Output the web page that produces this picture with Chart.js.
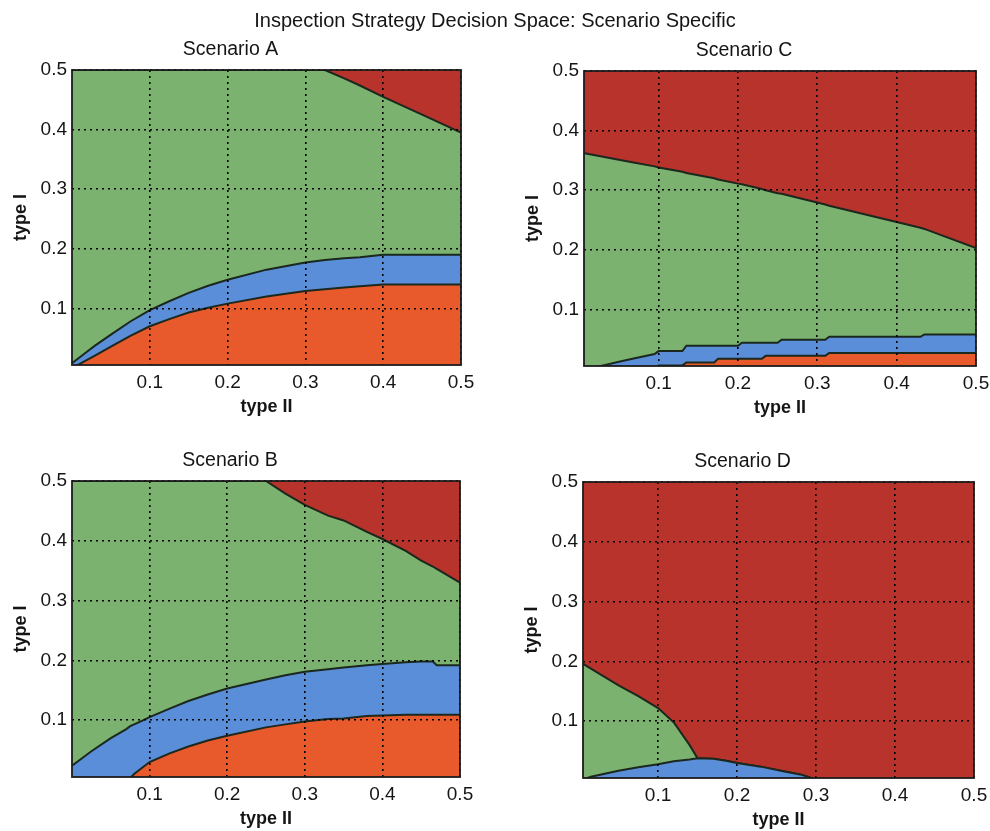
<!DOCTYPE html>
<html>
<head>
<meta charset="utf-8">
<script src="https://cdn.jsdelivr.net/npm/chart.js@4.4.1/dist/chart.umd.min.js"></script>
<style>
  body { margin: 0; background: #fff; width: 990px; height: 831px; position: relative; overflow: hidden; font-family: "Liberation Sans", Arial, sans-serif; }
  #title { position: absolute; left: 0; top: 8px; width: 990px; text-align: center; font-size: 20px; line-height: 24px; color: #151515; z-index: 2; }
  canvas { position: absolute; }
</style>
</head>
<body>
<div id="title">Inspection Strategy Decision Space: Scenario Specific</div>
<canvas id="chartA" width="495" height="390" style="left:0;top:30px"></canvas>
<canvas id="chartC" width="478" height="390" style="left:512px;top:31px"></canvas>
<canvas id="chartB" width="495" height="391" style="left:0;top:441px"></canvas>
<canvas id="chartD" width="479" height="391" style="left:511px;top:442px"></canvas>
<script>
const tickValues = [0.1, 0.2, 0.3, 0.4, 0.5];
const tickLabels = ['0.1', '0.2', '0.3', '0.4', '0.5'];

// boundaries: top of orange, top of blue, top of green (rest is red)
const xA = [0, 0.01, 0.02, 0.03, 0.05, 0.075, 0.1, 0.125, 0.15, 0.175, 0.2, 0.25, 0.3, 0.325, 0.35, 0.37, 0.4, 0.45, 0.5];
const orangeA = [0, 0.007, 0.014, 0.021, 0.036, 0.054, 0.07, 0.082, 0.093, 0.101, 0.108, 0.12, 0.129, 0.132, 0.135, 0.137, 0.14, 0.14, 0.14];
const blueA = [0.008, 0.018, 0.028, 0.038, 0.056, 0.078, 0.097, 0.112, 0.126, 0.138, 0.148, 0.165, 0.177, 0.181, 0.184, 0.186, 0.19, 0.19, 0.19];
const greenA = [0.5, 0.5, 0.5, 0.5, 0.5, 0.5, 0.5, 0.5, 0.5, 0.5, 0.5, 0.5, 0.5, 0.5, 0.486, 0.474, 0.455, 0.425, 0.395];

const xB = [0, 0.025, 0.05, 0.07, 0.075, 0.08, 0.09, 0.1, 0.125, 0.15, 0.175, 0.2, 0.25, 0.275, 0.3, 0.33, 0.35, 0.38, 0.4, 0.43, 0.45, 0.465, 0.47, 0.5];
const orangeB = [0, 0, 0, 0, 0.003, 0.01, 0.02, 0.03, 0.044, 0.056, 0.066, 0.074, 0.088, 0.093, 0.098, 0.102, 0.103, 0.107, 0.108, 0.109, 0.109, 0.109, 0.109, 0.109];
const blueB = [0.024, 0.048, 0.07, 0.085, 0.09, 0.093, 0.099, 0.105, 0.119, 0.132, 0.143, 0.153, 0.168, 0.175, 0.181, 0.185, 0.188, 0.192, 0.194, 0.197, 0.198, 0.198, 0.192, 0.192];
const greenB = [0.5, 0.5, 0.5, 0.5, 0.5, 0.5, 0.5, 0.5, 0.5, 0.5, 0.5, 0.5, 0.5, 0.479, 0.46, 0.442, 0.434, 0.415, 0.403, 0.383, 0.367, 0.357, 0.353, 0.33];

const xC = [0, 0.01, 0.03, 0.05, 0.07, 0.095, 0.1, 0.13, 0.135, 0.17, 0.175, 0.2, 0.205, 0.23, 0.235, 0.25, 0.255, 0.31, 0.315, 0.43, 0.435, 0.5];
const orangeC = [0, 0, 0, 0, 0, 0, 0.006, 0.006, 0.011, 0.011, 0.017, 0.017, 0.017, 0.017, 0.022, 0.022, 0.022, 0.022, 0.027, 0.027, 0.027, 0.027];
const blueC = [0, 0, 0.006, 0.012, 0.018, 0.025, 0.03, 0.03, 0.039, 0.039, 0.039, 0.039, 0.044, 0.044, 0.044, 0.044, 0.049, 0.049, 0.054, 0.054, 0.058, 0.058];
const greenC = [0.363, 0.361, 0.356, 0.351, 0.346, 0.34, 0.338, 0.331, 0.329, 0.32, 0.318, 0.311, 0.31, 0.302, 0.3, 0.295, 0.294, 0.276, 0.274, 0.237, 0.235, 0.203];

const xD = [0, 0.015, 0.05, 0.075, 0.1, 0.12, 0.14, 0.15, 0.17, 0.186, 0.2, 0.23, 0.26, 0.28, 0.297, 0.303, 0.35, 0.4, 0.5];
const orangeD = [0, 0, 0, 0, 0, 0, 0, 0, 0, 0, 0, 0, 0, 0, 0, 0, 0, 0, 0];
const blueD = [0, 0.007, 0.017, 0.023, 0.028, 0.033, 0.036, 0.038, 0.037, 0.034, 0.03, 0.024, 0.016, 0.011, 0.004, 0, 0, 0, 0];
const greenD = [0.2, 0.188, 0.16, 0.142, 0.122, 0.098, 0.06, 0.038, 0.037, 0.034, 0.03, 0.024, 0.016, 0.011, 0.004, 0, 0, 0, 0];

const FONT = '"Liberation Sans", Arial, sans-serif';
const INK = '#151515';
const EDGE = '#1b281d';
const COLORS = { orange: '#e85a2b', blue: '#5b8ed9', green: '#7cb26f', red: '#b7332b' };

Chart.defaults.font.family = FONT;
Chart.defaults.color = INK;

// box round the plot area, like the matlab axes
const framePlugin = {
  id: 'frame',
  afterDraw(chart) {
    const { ctx, chartArea: a } = chart;
    ctx.save();
    ctx.strokeStyle = '#1c1c1c';
    ctx.lineWidth = 1.8;
    ctx.strokeRect(a.left, a.top, a.right - a.left, a.bottom - a.top);
    ctx.restore();
  }
};

function pts(xs, ys) {
  return xs.map((x, i) => ({ x: x, y: ys[i] }));
}

function axis(min, label, isX) {
  return {
    type: 'linear',
    min: min,
    max: 0.5,
    afterBuildTicks: s => { s.ticks = tickValues.map(v => ({ value: v })); },
    afterFit: s => {
      // fixed axis sizes so the four plot boxes line up with the reference
      if (isX) { s.height = 55; s.paddingLeft = 0; s.paddingRight = 0; }
      else { s.width = 72; s.paddingTop = 0; s.paddingBottom = 0; }
    },
    ticks: {
      callback: (v, i) => tickLabels[i],
      color: INK,
      font: { size: 19 },
      padding: isX ? 6 : 5,
      maxRotation: 0,
      autoSkip: false
    },
    grid: { z: 1, drawTicks: false, color: '#000', lineWidth: 1.6 },
    border: { display: false, dash: [2, 4] },
    title: {
      display: true,
      text: label,
      color: INK,
      font: { size: 18, weight: 'bold' },
      padding: isX ? { top: 0, bottom: 2 } : { top: 10, bottom: 0 }
    }
  };
}

function makeChart(id, title, xMin, padRight, xs, orange, blue, green) {
  const line = { pointRadius: 0, tension: 0, borderColor: EDGE, borderWidth: 2 };
  new Chart(document.getElementById(id), {
    type: 'line',
    data: {
      datasets: [
        { ...line, data: pts(xs, orange), backgroundColor: COLORS.orange, fill: 'origin' },
        { ...line, data: pts(xs, blue), backgroundColor: COLORS.blue, fill: '-1' },
        { ...line, data: pts(xs, green), backgroundColor: COLORS.green, fill: '-1' },
        { ...line, data: pts(xs, green), backgroundColor: COLORS.red, borderWidth: 0, fill: 'end' }
      ]
    },
    options: {
      responsive: false,
      animation: false,
      events: [],
      layout: { padding: { top: 8, right: padRight, bottom: 0, left: 0 } },
      plugins: {
        legend: { display: false },
        tooltip: { enabled: false },
        title: {
          display: true,
          text: title,
          color: INK,
          font: { size: 19.5, weight: 'normal' },
          padding: { top: 0, bottom: 8.6 }
        }
      },
      scales: {
        x: axis(xMin, 'type II', true),
        y: axis(0.005, 'type I', false)
      }
    },
    plugins: [framePlugin]
  });
}

makeChart('chartA', 'Scenario A', 0, 34, xA, orangeA, blueA, greenA);
makeChart('chartC', 'Scenario C', 0.006, 14, xC, orangeC, blueC, greenC);
makeChart('chartB', 'Scenario B', 0, 35, xB, orangeB, blueB, greenB);
makeChart('chartD', 'Scenario D', 0.005, 16, xD, orangeD, blueD, greenD);
</script>
</body>
</html>
